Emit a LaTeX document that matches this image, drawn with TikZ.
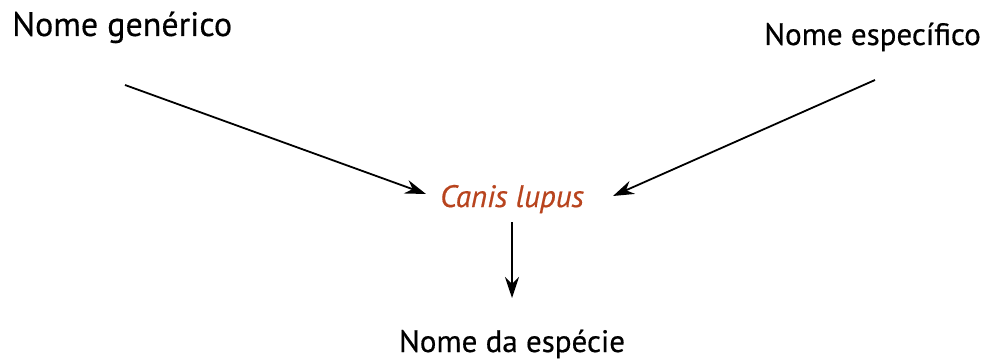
\documentclass[tikz,border=0pt]{standalone}
\usepackage{fontspec}
\setmainfont{PT Sans}
\newfontfamily\lblfont{PT Sans}[FakeBold=0.5]
\usetikzlibrary{arrows.meta}
\definecolor{latin}{HTML}{B8441E}
\begin{document}
\begin{tikzpicture}[x=1pt,y=-1pt,
  lbl/.style={inner sep=0pt,font=\lblfont\fontsize{31}{34}\selectfont},
  arr/.style={-{Stealth[length=21pt,width=14pt]},line width=1.8pt}]
\useasboundingbox (0,0) rectangle (986,361);
\node[lbl,anchor=base west,font=\lblfont\fontsize{34}{36}\selectfont] (gen) at (12,36) {Nome genérico};
\node[lbl,anchor=base east,font=\lblfont\fontsize{31}{34}\selectfont] (esp) at (981,45) {Nome específico};
\node[lbl,anchor=base,text=latin,font=\lblfont\fontsize{31}{34}\selectfont\itshape] (canis) at (512,207) {Canis lupus};
\node[lbl,anchor=base] (nome) at (512,352) {Nome da espécie};
\coordinate (a1) at (125,85);
\coordinate (b1) at (426,194);
\coordinate (a2) at (875,80);
\coordinate (b2) at (613,196);
\coordinate (a3) at (512,222);
\coordinate (b3) at (512,298);
\draw[arr] (a1) -- (b1);
\draw[arr] (a2) -- (b2);
\draw[arr] (a3) -- (b3);
\end{tikzpicture}
\end{document}
